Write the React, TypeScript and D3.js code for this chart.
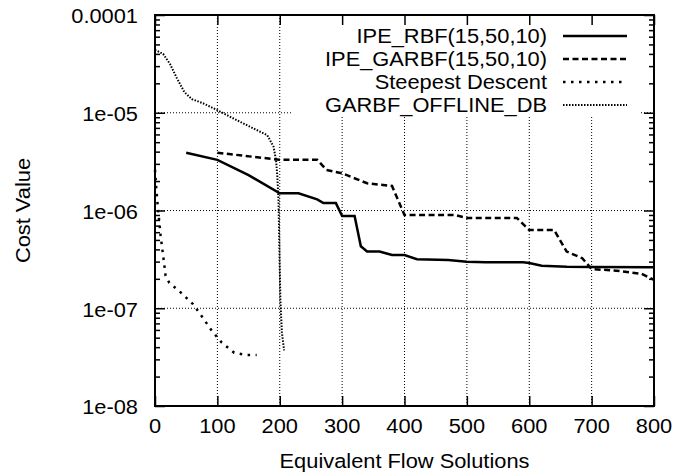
import React, { useEffect, useRef } from "react";
import {
  select,
  scaleLinear,
  scaleLog,
  line,
  axisBottom,
  axisTop,
  axisLeft,
  axisRight,
} from "d3";

// [flow solutions, cost value]
const ipeRbf: [number, number][] = [
  [50, 3.9e-6], [100, 3.3e-6], [150, 2.3e-6], [200, 1.5e-6], [230, 1.5e-6],
  [260, 1.3e-6], [270, 1.19e-6], [290, 1.19e-6], [300, 8.8e-7], [320, 8.8e-7],
  [330, 4.3e-7], [340, 3.8e-7], [360, 3.8e-7], [380, 3.5e-7], [400, 3.5e-7],
  [420, 3.17e-7], [470, 3.12e-7], [500, 2.99e-7], [530, 2.95e-7], [590, 2.95e-7],
  [600, 2.9e-7], [620, 2.72e-7], [660, 2.66e-7], [700, 2.65e-7], [800, 2.62e-7],
];
const ipeGarbf: [number, number][] = [
  [100, 3.9e-6], [200, 3.3e-6], [260, 3.3e-6], [275, 2.6e-6], [300, 2.4e-6],
  [340, 1.9e-6], [380, 1.78e-6], [400, 9.0e-7], [480, 9.0e-7], [500, 8.4e-7],
  [580, 8.4e-7], [600, 6.3e-7], [640, 6.3e-7], [660, 3.8e-7], [685, 3.25e-7],
  [700, 2.52e-7], [740, 2.42e-7], [780, 2.25e-7], [800, 1.95e-7],
];
const steepest: [number, number][] = [
  [0, 2.6e-6], [2, 1.7e-6], [4, 1.19e-6], [9, 5.5e-7], [14, 3.1e-7],
  [17, 2.15e-7], [23, 1.82e-7], [43, 1.42e-7], [61, 1.1e-7], [76, 8.1e-8],
  [91, 5.9e-8], [107, 4.45e-8], [127, 3.5e-8], [145, 3.33e-8], [163, 3.33e-8],
];
const offlineDb: [number, number][] = [
  [0, 4.4e-5], [13, 4.0e-5], [24, 3.16e-5], [35, 2.26e-5], [47, 1.63e-5],
  [59, 1.38e-5], [77, 1.25e-5], [99, 1.07e-5], [131, 8.4e-6], [158, 6.9e-6],
  [180, 5.9e-6], [190, 4.5e-6], [194, 3.3e-6], [196, 2.3e-6], [198, 1.28e-6],
  [201, 1.21e-7], [203.5, 5.6e-8], [207, 3.7e-8],
];

const seriesNames = [
  "IPE_RBF(15,50,10)",
  "IPE_GARBF(15,50,10)",
  "Steepest Descent",
  "GARBF_OFFLINE_DB",
];
const xTicks = [0, 100, 200, 300, 400, 500, 600, 700, 800];
const yTicks = [1e-4, 1e-5, 1e-6, 1e-7, 1e-8];
const yTickLabels = ["0.0001", "1e-05", "1e-06", "1e-07", "1e-08"];

const W = 676;
const H = 475;
const FONT = "'Liberation Sans', Arial, Helvetica, sans-serif";
const FS = 19.5;
const SX = 1.12; // gnuplot's helvetica runs wide

function App() {
  const ref = useRef<HTMLDivElement>(null);

  useEffect(() => {
    document.body.style.margin = "0";
    const x = scaleLinear().domain([0, 800]).range([155, 654]);
    const y = scaleLog().domain([1e-8, 1e-4]).range([406, 15]);
    const [x0, x1] = x.range();
    const [y0, y1] = y.range();

    const svg = select(ref.current)
      .append("svg")
      .attr("width", W)
      .attr("height", H)
      .style("display", "block");

    svg.append("rect").attr("width", W).attr("height", H).attr("fill", "#fff");

    const label = (
      txt: string,
      px: number,
      py: number,
      anchor: string,
      rot = 0
    ) =>
      svg
        .append("text")
        .attr("transform", `translate(${px},${py}) rotate(${rot}) scale(${SX},1)`)
        .attr("text-anchor", anchor)
        .attr("font-family", FONT)
        .attr("font-size", FS)
        .attr("fill", "#000")
        .text(txt);

    // grid
    const grid = svg.append("g").attr("stroke", "#000").attr("stroke-width", 1)
      .attr("stroke-dasharray", "1,2");
    xTicks.slice(1, -1).forEach((t) =>
      grid.append("line").attr("x1", x(t)).attr("x2", x(t)).attr("y1", y1).attr("y2", y0)
    );
    yTicks.slice(1, -1).forEach((t) =>
      grid.append("line").attr("x1", x0).attr("x2", x1).attr("y1", y(t)).attr("y2", y(t))
    );
    // key box hides the grid behind it
    svg.append("rect").attr("x", 292).attr("y", y1).attr("width", 348)
      .attr("height", 100).attr("fill", "#fff");

    // curves
    const path = line<[number, number]>()
      .x((d) => x(d[0]))
      .y((d) => y(d[1]));
    const styles = [
      { w: 2.5, dash: null, data: ipeRbf },
      { w: 2.5, dash: "6,3.5", data: ipeGarbf },
      { w: 2.5, dash: "2.5,5.5", data: steepest },
      { w: 2, dash: "1.5,1.5", data: offlineDb },
    ];
    styles.forEach((s) => {
      svg.append("path")
        .attr("d", path(s.data))
        .attr("fill", "none")
        .attr("stroke", "#000")
        .attr("stroke-width", s.w)
        .attr("stroke-dasharray", s.dash);
    });

    // ticks, all four sides, pointing in
    const minors: number[] = [];
    [1e-8, 1e-7, 1e-6, 1e-5].forEach((d) => {
      for (let k = 2; k <= 9; k++) minors.push(d * k);
    });
    const tickG = (tr: string) => svg.append("g").attr("transform", tr);
    const styleAxis = (g: any) => {
      g.select(".domain").remove();
      g.selectAll("line").attr("stroke", "#000").attr("stroke-width", 1.5);
    };
    tickG(`translate(0,${y0})`).call(axisBottom(x).tickValues(xTicks).tickSize(-10).tickFormat(() => "")).call(styleAxis);
    tickG(`translate(0,${y1})`).call(axisTop(x).tickValues(xTicks).tickSize(-10).tickFormat(() => "")).call(styleAxis);
    tickG(`translate(${x0},0)`).call(axisLeft(y).tickValues(yTicks).tickSize(-10).tickFormat(() => "")).call(styleAxis);
    tickG(`translate(${x1},0)`).call(axisRight(y).tickValues(yTicks).tickSize(-10).tickFormat(() => "")).call(styleAxis);
    tickG(`translate(${x0},0)`).call(axisLeft(y).tickValues(minors).tickSize(-5).tickFormat(() => "")).call(styleAxis);
    tickG(`translate(${x1},0)`).call(axisRight(y).tickValues(minors).tickSize(-5).tickFormat(() => "")).call(styleAxis);

    // border
    svg.append("rect")
      .attr("x", x0).attr("y", y1).attr("width", x1 - x0).attr("height", y0 - y1)
      .attr("fill", "none").attr("stroke", "#000").attr("stroke-width", 2);

    // tick labels
    xTicks.forEach((t) => label(String(t), x(t), 432.5, "middle"));
    yTicks.forEach((t, i) => label(yTickLabels[i], 138, y(t) + 8.3, "end"));

    // axis titles
    label("Equivalent Flow Solutions", (x0 + x1) / 2, 467.5, "middle");
    label("Cost Value", 30, (y0 + y1) / 2, "middle", -90);

    // key
    styles.forEach((s, i) => {
      const cy = 36 + i * 23;
      label(seriesNames[i], 547, cy + 6.8, "end");
      svg.append("line")
        .attr("x1", 563).attr("x2", 627).attr("y1", cy).attr("y2", cy)
        .attr("stroke", "#000")
        .attr("stroke-width", s.w)
        .attr("stroke-dasharray", s.dash);
    });

    return () => {
      svg.remove();
    };
  }, []);

  return <div ref={ref}></div>;
}

export default App;
